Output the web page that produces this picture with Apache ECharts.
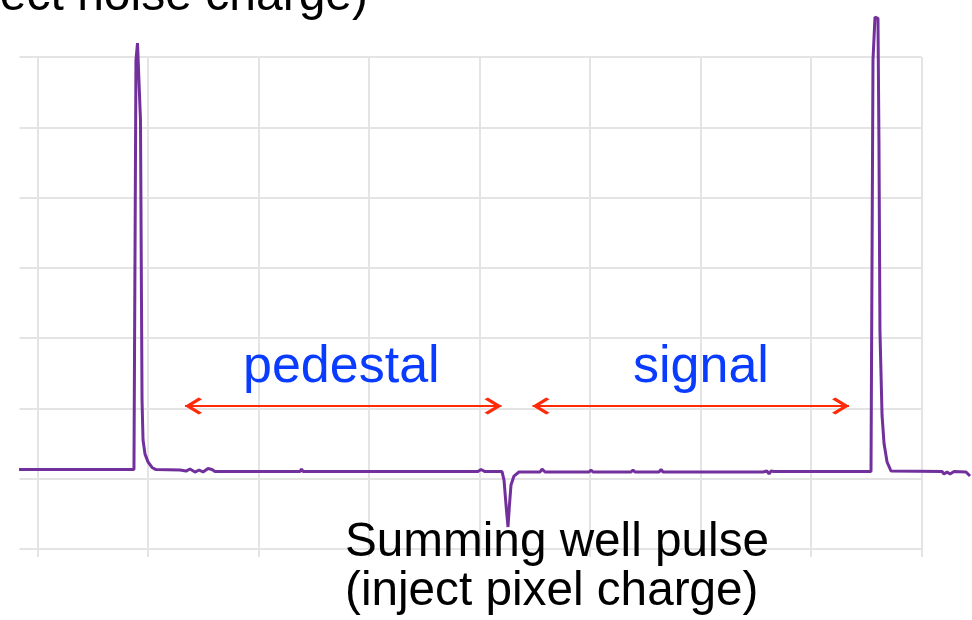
<!DOCTYPE html>
<html>
<head>
<meta charset="utf-8">
<script src="https://cdn.jsdelivr.net/npm/echarts@6/dist/echarts.min.js"></script>
<style>
  html, body { margin: 0; padding: 0; background: #fff; }
</style>
</head>
<body>
<div id="chart" style="width: 972px; height: 620px"></div>
<script>
// time in grid divisions, level in grid divisions
var traceX = [-0.167, 0.873, 0.891, 0.905, 0.919, 0.932, 0.941, 0.946, 0.955, 0.973, 1.0, 1.036, 1.072,
  1.29, 1.308, 1.344, 1.38, 1.425, 1.462, 1.498, 1.543, 1.579, 1.606,
  2.376, 2.389, 2.403, 3.986, 4.014, 4.05,
  4.204, 4.222, 4.24, 4.258, 4.271, 4.285, 4.312, 4.357,
  4.548, 4.566, 4.593, 4.991, 5.009, 5.027, 5.371, 5.389, 5.407, 5.624, 5.643, 5.661,
  6.566, 6.584, 6.602, 6.62, 6.638, 6.665,
  7.543, 7.561, 7.579, 7.606, 7.615, 7.624, 7.643, 7.661, 7.688, 7.724,
  8.186, 8.204, 8.231, 8.258, 8.294, 8.403, 8.439]
var traceY = [1.13, 1.13, 6.956, 7.198, 7.17, 6.1, 3.542, 2.119, 1.55, 1.35, 1.24, 1.16, 1.13,
  1.124, 1.152, 1.109, 1.138, 1.095, 1.124, 1.095, 1.145, 1.131, 1.102,
  1.102, 1.138, 1.102, 1.102, 1.131, 1.102,
  1.102, 0.981, 0.626, 0.313, 0.626, 0.91, 1.038, 1.095,
  1.095, 1.138, 1.095, 1.095, 1.124, 1.095, 1.095, 1.124, 1.095, 1.095, 1.131, 1.095,
  1.095, 1.067, 1.109, 1.067, 1.109, 1.102,
  1.102, 6.956, 7.568, 7.55, 5.8, 3.1, 1.9, 1.5, 1.24, 1.11,
  1.102, 1.067, 1.095, 1.067, 1.102, 1.095, 1.038]

var pedestalSpan = [1.335, 4.199]
var signalSpan = [4.48, 7.344]
var arrowLevel = 2.034

var xDivs = 8
var yDivs = 7

// layout of the ruled area inside the 972x620 canvas
var W = 972, H = 620
var gLeft = 37.5, gTop = 57, gWidth = 884, gHeight = 492
var divW = gWidth / xDivs, divH = gHeight / yDivs

var gridColor = '#e4e4e4'
var traceColor = '#71309c'
var arrowColor = '#ff2a0a'
var labelFont = 'Liberation Sans, Arial, sans-serif'

var chevron = 'path://M10,-1L10,-1ZM10,10L20,19.2L18,21.4L10,14L2,21.4L0,19.2Z'

var myChart = echarts.init(document.getElementById('chart'))

var traceData = traceX.map(function (x, i) { return [x, traceY[i]] })

function ruleAxis(pos, len, split) {
  return {
    type: 'value', min: 0, max: (pos === 'top' || pos === 'bottom') ? xDivs : yDivs, interval: 1,
    position: pos, gridIndex: 0,
    axisLine: { show: false },
    axisTick: { show: true, length: len, lineStyle: { color: gridColor, width: 2 } },
    axisLabel: { show: false },
    splitLine: { show: split, lineStyle: { color: gridColor, width: 2 } }
  }
}

var option = {
  backgroundColor: '#fff',
  animation: false,
  grid: [
    { left: gLeft, top: gTop, width: gWidth, height: gHeight },
    { left: 0, top: 0, width: W, height: H }
  ],
  xAxis: [
    ruleAxis('bottom', 8, true),
    ruleAxis('top', 50, false),
    { type: 'value', gridIndex: 1, show: false, min: -gLeft / divW, max: (W - gLeft) / divW }
  ],
  yAxis: [
    ruleAxis('left', 18, true),
    ruleAxis('right', 47, false),
    { type: 'value', gridIndex: 1, show: false, min: -(H - gTop - gHeight) / divH, max: (gTop + gHeight) / divH }
  ],
  series: [
    {
      type: 'line',
      xAxisIndex: 2,
      yAxisIndex: 2,
      data: traceData,
      showSymbol: false,
      clip: false,
      z: 5,
      lineStyle: { color: traceColor, width: 3 },
      markLine: {
        silent: true,
        symbol: [chevron, chevron],
        symbolSize: [17, 34],
        lineStyle: { color: arrowColor, width: 2.2, type: 'solid' },
        label: { show: false },
        data: [
          [{ coord: [pedestalSpan[0], arrowLevel] }, { coord: [pedestalSpan[1], arrowLevel] }],
          [{ coord: [signalSpan[0], arrowLevel] }, { coord: [signalSpan[1], arrowLevel] }]
        ]
      }
    }
  ],
  graphic: [
    { type: 'text', z: 100, x: 368, y: -3, style: { text: '(inject noise charge)', font: '48px ' + labelFont, fill: '#000', align: 'right', verticalAlign: 'middle' } },
    { type: 'text', z: 100, x: 243, y: 368, style: { text: 'pedestal', font: '52px ' + labelFont, fill: '#0a3cff', verticalAlign: 'middle' } },
    { type: 'text', z: 100, x: 633, y: 368, style: { text: 'signal', font: '52px ' + labelFont, fill: '#0a3cff', verticalAlign: 'middle' } },
    { type: 'text', z: 100, x: 345, y: 543, style: { text: 'Summing well pulse', font: '47.7px ' + labelFont, fill: '#000', verticalAlign: 'middle' } },
    { type: 'text', z: 100, x: 345, y: 592, style: { text: '(inject pixel charge)', font: '47.7px ' + labelFont, fill: '#000', verticalAlign: 'middle' } }
  ]
}

myChart.setOption(option)
</script>
</body>
</html>
